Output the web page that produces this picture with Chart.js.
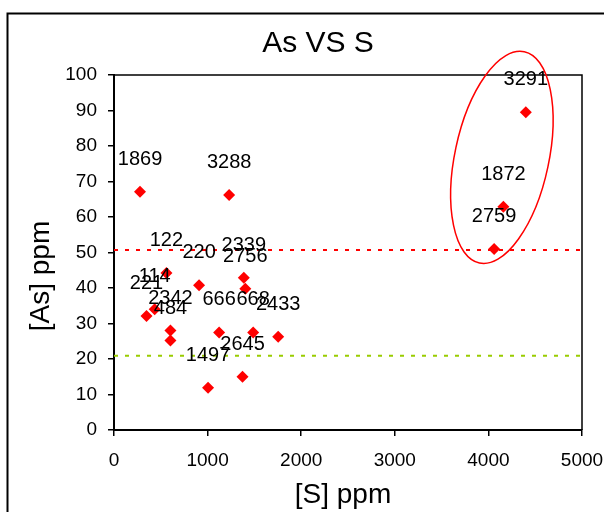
<!DOCTYPE html>
<html>
<head>
<meta charset="utf-8">
<script src="https://cdn.jsdelivr.net/npm/chart.js@4/dist/chart.umd.min.js"></script>
<style>
  html, body { margin: 0; padding: 0; background: #ffffff; }
  #wrap { width: 604px; height: 512px; }
</style>
</head>
<body>
<div id="wrap"><canvas id="chart" width="604" height="512"></canvas></div>
<script>
// Sample numbers and their sulfur / arsenic contents (ppm)
const sampleIds = ['1869', '3288', '122', '220', '2339', '2756', '114', '221', '2342',
                   '484', '666', '668', '2433', '2645', '1497', '3291', '1872', '2759'];
const sulfurPpm = [278, 1230, 560, 909, 1387, 1403, 435, 347, 603,
                   603, 1123, 1487, 1754, 1373, 1005, 4400, 4160, 4061];
const arsenicPpm = [67.1, 66.2, 44.2, 40.8, 42.9, 39.8, 34.0, 32.1, 28.0,
                    25.2, 27.5, 27.5, 26.3, 15.0, 11.9, 89.5, 62.9, 51.0];

// Reference levels for arsenic
const upperLevel = 50.7;
const lowerLevel = 20.9;

// Axis ticks
const xTickValues = [0, 1000, 2000, 3000, 4000, 5000];
const yTickValues = [0, 10, 20, 30, 40, 50, 60, 70, 80, 90, 100];

// Highlighted group (high-S samples), centre in data units
const groupCentre = { x: 4144, y: 76.8 };

const FONT = "'Liberation Sans', Arial, sans-serif";

const points = sampleIds.map((id, i) => ({ x: sulfurPpm[i], y: arsenicPpm[i], id }));
const levelLine = (v) => [{ x: xTickValues[0], y: v }, { x: xTickValues[xTickValues.length - 1], y: v }];

const decorations = {
  id: 'decorations',
  afterDraw(chart) {
    const { ctx, chartArea: a, scales } = chart;
    ctx.save();

    // outer chart frame
    ctx.strokeStyle = '#000';
    ctx.lineWidth = 2;
    ctx.strokeRect(7.5, 13.5, 800, 800);

    // plot frame (top and right sides)
    ctx.lineWidth = 1.5;
    ctx.beginPath();
    ctx.moveTo(a.left, a.top);
    ctx.lineTo(a.right, a.top);
    ctx.lineTo(a.right, a.bottom);
    ctx.stroke();

    // sample labels above each marker
    const meta = chart.getDatasetMeta(2);
    ctx.fillStyle = '#000';
    ctx.font = '20px ' + FONT;
    ctx.textAlign = 'center';
    ctx.textBaseline = 'alphabetic';
    meta.data.forEach((el, i) => {
      ctx.fillText(sampleIds[i], el.x, el.y - 27);
    });

    // ellipse around the high-sulfur group
    const cx = scales.x.getPixelForValue(groupCentre.x);
    const cy = scales.y.getPixelForValue(groupCentre.y);
    ctx.strokeStyle = '#ff0000';
    ctx.lineWidth = 1.5;
    ctx.beginPath();
    ctx.ellipse(cx, cy, 47, 108, 12 * Math.PI / 180, 0, Math.PI * 2);
    ctx.stroke();

    // chart title
    ctx.fillStyle = '#000';
    ctx.font = '30px ' + FONT;
    ctx.textAlign = 'center';
    ctx.fillText('As VS S', 318, 51.5);

    // axis titles
    ctx.font = '28px ' + FONT;
    ctx.fillText('[S] ppm', 343, 503);
    ctx.save();
    ctx.translate(49, 276);
    ctx.rotate(-Math.PI / 2);
    ctx.fillText('[As] ppm', 0, 0);
    ctx.restore();

    ctx.restore();
  }
};

const plainNumber = (v) => String(v);

new Chart(document.getElementById('chart'), {
  type: 'scatter',
  data: {
    datasets: [
      {
        data: levelLine(upperLevel),
        showLine: true,
        borderColor: '#ff0000',
        borderWidth: 2,
        borderDash: [4, 7],
        pointRadius: 0,
        order: 3
      },
      {
        data: levelLine(lowerLevel),
        showLine: true,
        borderColor: '#99cc00',
        borderWidth: 2,
        borderDash: [4, 7],
        pointRadius: 0,
        order: 2
      },
      {
        data: points,
        pointStyle: 'rectRot',
        pointRadius: 6,
        pointHoverRadius: 6,
        backgroundColor: '#ff0000',
        borderColor: '#ff0000',
        borderWidth: 0,
        order: 1
      }
    ]
  },
  options: {
    responsive: false,
    animation: false,
    events: [],
    layout: { padding: { left: 0, right: 22, top: 75, bottom: 0 } },
    plugins: {
      legend: { display: false },
      title: { display: false },
      tooltip: { enabled: false }
    },
    scales: {
      x: {
        type: 'linear',
        min: 0,
        max: 5000,
        afterBuildTicks: (s) => { s.ticks = xTickValues.map(v => ({ value: v })); },
        afterFit: (s) => { s.height = 82; s.paddingLeft = 0; s.paddingRight = 0; },
        ticks: { color: '#000', font: { family: FONT, size: 19 }, padding: 13, maxRotation: 0, callback: plainNumber },
        grid: { display: true, drawOnChartArea: false, drawTicks: true, tickLength: 6, color: '#000', lineWidth: 1.5 },
        border: { display: true, color: '#000', width: 2 }
      },
      y: {
        type: 'linear',
        min: 0,
        max: 100,
        afterBuildTicks: (s) => { s.ticks = yTickValues.map(v => ({ value: v })); },
        afterFit: (s) => { s.width = 114; s.paddingTop = 0; s.paddingBottom = 0; },
        ticks: { color: '#000', font: { family: FONT, size: 19 }, padding: 11, callback: plainNumber },
        grid: { display: true, drawOnChartArea: false, drawTicks: true, tickLength: 6, color: '#000', lineWidth: 1.5 },
        border: { display: true, color: '#000', width: 2 }
      }
    }
  },
  plugins: [decorations]
});
</script>
</body>
</html>
